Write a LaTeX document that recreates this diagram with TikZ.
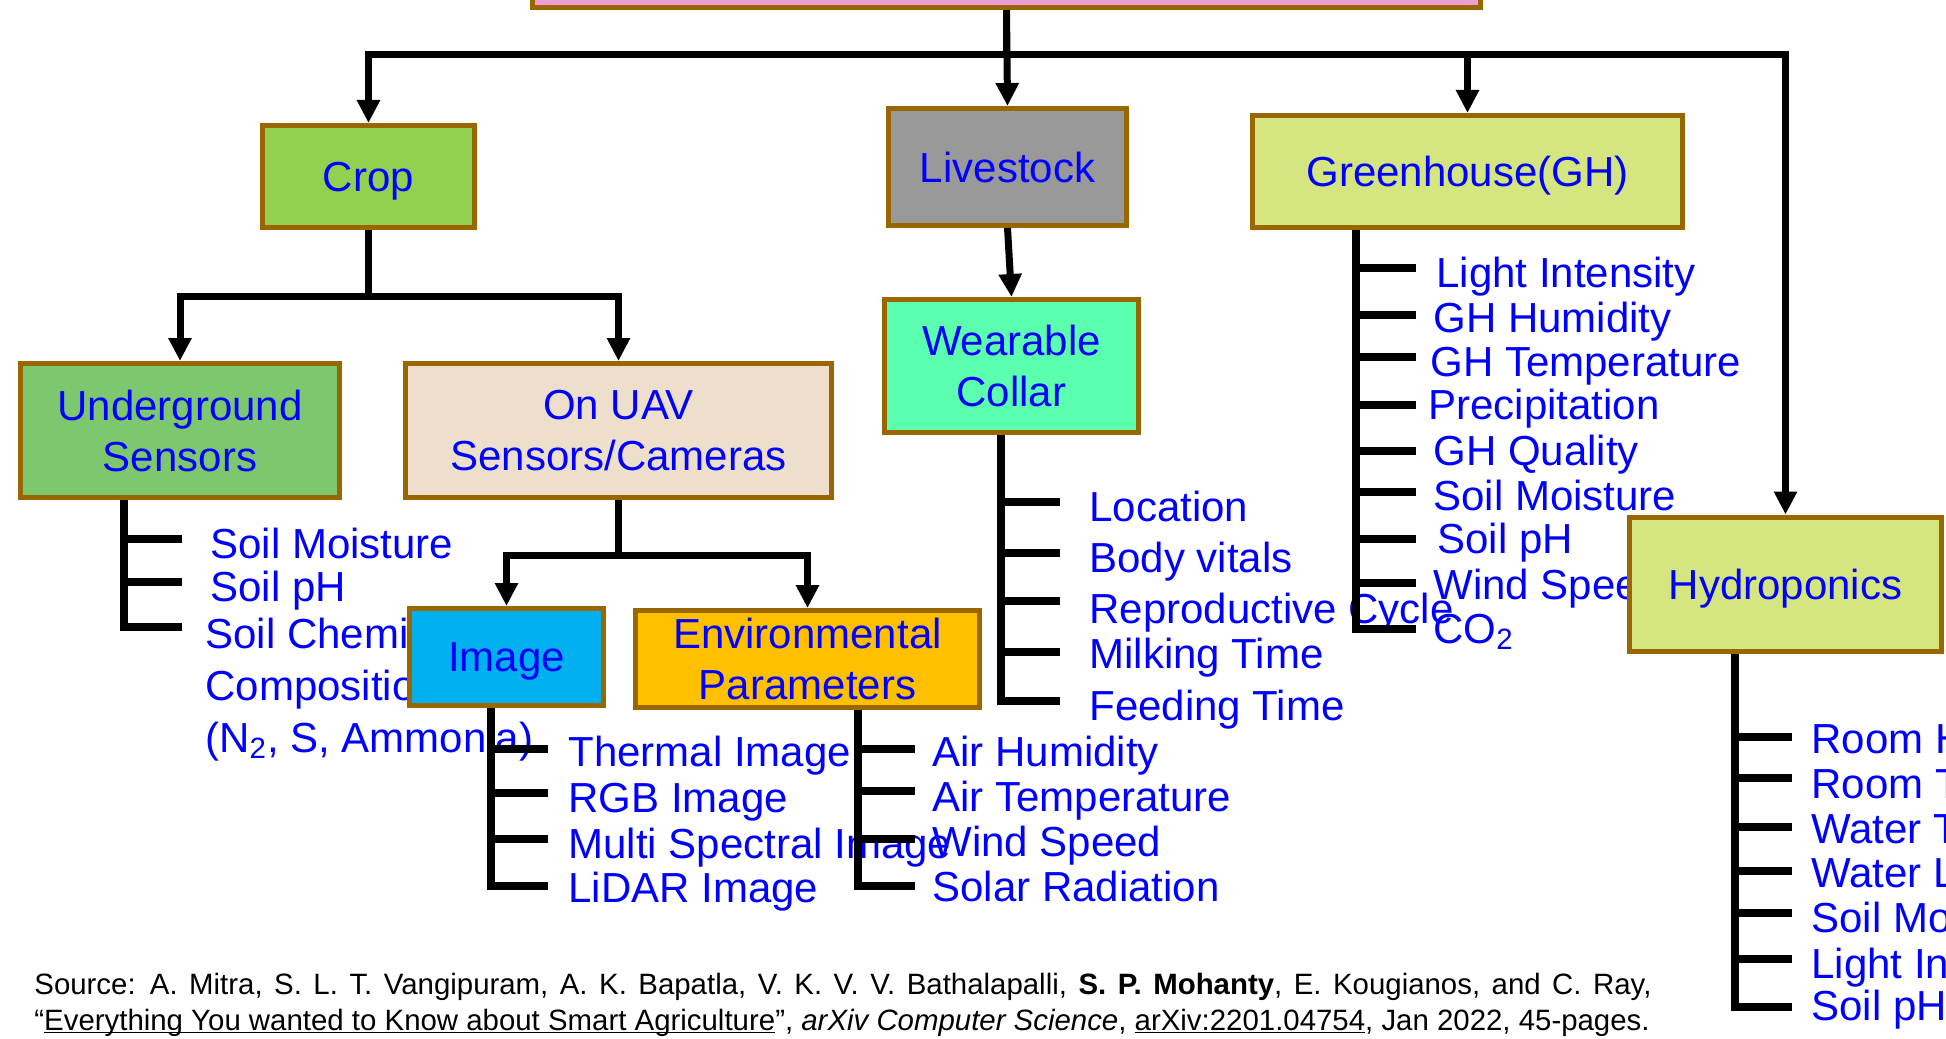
\documentclass[tikz,border=0pt]{standalone}
\usepackage{fontspec}
\setmainfont{Liberation Sans}
\usetikzlibrary{arrows.meta}
\definecolor{txtblue}{RGB}{0,0,255}
\definecolor{brd}{RGB}{153,102,0}
\definecolor{cpink}{RGB}{238,158,214}
\definecolor{ccrop}{RGB}{146,208,80}
\definecolor{cgray}{RGB}{153,153,153}
\definecolor{cgh}{RGB}{213,229,127}
\definecolor{cwear}{RGB}{92,255,173}
\definecolor{cunder}{RGB}{125,200,110}
\definecolor{cuav}{RGB}{237,223,203}
\definecolor{cimg}{RGB}{0,176,240}
\definecolor{cenv}{RGB}{255,192,0}
\begin{document}
\begin{tikzpicture}[x=0.5pt,y=-0.5pt,
  box/.style={draw=brd, line width=2.5pt, text=txtblue, font=\fontsize{21}{25.5}\selectfont, align=center, inner sep=0pt},
  single/.style={text depth=0pt},
  conn/.style={line width=3.5pt, line join=miter},
  arr/.style={conn, -{Triangle[length=11.5pt,width=11pt]}},
  tree/.style={line width=3.75pt, line join=miter},
  leaf/.style={text=txtblue, font=\fontsize{21}{25.5}\selectfont, anchor=base west, inner sep=0pt},
  srctext/.style={anchor=base west, inner sep=0pt, font=\fontsize{14.7}{18}\selectfont}]
\useasboundingbox (0,0) rectangle (1946,1038);
\clip (0,0) rectangle (1946,1038);

% ---------- leaf texts (under boxes) ----------
\node[leaf] (u1) at (210,558) {Soil Moisture};
\node[leaf] (u2) at (210,601) {Soil pH};
\node[leaf] (u3) at (205,648) {Soil Chemical};
\node[leaf] (u4) at (205,700) {Composition};
\node[leaf] (u5) at (205,752) {(N\textsubscript{2}, S, Ammonia)};

\node[leaf] (i1) at (568,766) {Thermal Image};
\node[leaf] (i2) at (568,812) {RGB Image};
\node[leaf] (i3) at (568,858) {Multi Spectral Image};
\node[leaf] (i4) at (568,902) {LiDAR Image};

\node[leaf] (e1) at (932,766) {Air Humidity};
\node[leaf] (e2) at (932,811) {Air Temperature};
\node[leaf] (e3) at (932,856) {Wind Speed};
\node[leaf] (e4) at (932,901) {Solar Radiation};

\node[leaf] (w1) at (1089,521) {Location};
\node[leaf] (w2) at (1089,572) {Body vitals};
\node[leaf] (w3) at (1089,623) {Reproductive Cycle};
\node[leaf] (w4) at (1089,668) {Milking Time};
\node[leaf] (w5) at (1089,720) {Feeding Time};

\node[leaf] (g1) at (1436,287) {Light Intensity};
\node[leaf] (g2) at (1433,332) {GH Humidity};
\node[leaf] (g3) at (1430,376) {GH Temperature};
\node[leaf] (g4) at (1428,419) {Precipitation};
\node[leaf] (g5) at (1433,465) {GH Quality};
\node[leaf] (g6) at (1433,510) {Soil Moisture};
\node[leaf] (g7) at (1437,553) {Soil pH};
\node[leaf] (g8) at (1433,599) {Wind Speed};
\node[leaf] (g9) at (1433,643) {CO\textsubscript{2}};

\node[leaf] (h1) at (1811,753) {Room Humidity};
\node[leaf] (h2) at (1811,798) {Room Temperature};
\node[leaf] (h3) at (1811,843) {Water Temperature};
\node[leaf] (h4) at (1811,887) {Water Level};
\node[leaf] (h5) at (1811,932) {Soil Moisture};
\node[leaf] (h6) at (1811,978) {Light Intensity};
\node[leaf] (h7) at (1811,1020) {Soil pH};

% ---------- boxes ----------
\node[box, fill=cpink, minimum width=474pt, minimum height=32.5pt] (top) at (1006.5,-25) {};
\node[box, single, fill=ccrop, minimum width=106pt, minimum height=51pt] (crop) at (368.5,176.5) {Crop};
\node[box, single, fill=cgray, minimum width=119pt, minimum height=58.5pt] (live) at (1007.5,167) {Livestock};
\node[box, single, fill=cgh, minimum width=215pt, minimum height=56pt] (gh) at (1467.5,171.5) {Greenhouse(GH)};
\node[box, single, fill=cgh, minimum width=156pt, minimum height=67pt] (hydro) at (1785.5,584) {Hydroponics};
\node[box, fill=cwear, minimum width=127pt, minimum height=66.5pt] (wear) at (1011.5,366) {Wearable\\Collar};
\node[box, fill=cunder, minimum width=159.5pt, minimum height=67pt] (under) at (180,430.5) {Underground\\Sensors};
\node[box, fill=cuav, minimum width=213pt, minimum height=67pt] (uav) at (618.5,430.5) {On UAV\\Sensors/Cameras};
\node[box, single, fill=cimg, minimum width=97pt, minimum height=48.5pt] (image) at (506.5,657) {Image};
\node[box, fill=cenv, minimum width=172pt, minimum height=48.5pt] (env) at (807.5,659) {Environmental\\Parameters};

% ---------- connectors ----------
\draw[arr] (top.south) -- (live.north);
\draw[arr] (top.south) -- ++(0,44.5) -| (crop.north);
\draw[arr] (top.south) -- ++(0,44.5) -| (gh.north);
\draw[arr] (top.south) -- ++(0,44.5) -| (hydro.north);
\draw[arr] (live.south) -- (wear.north);
\draw[arr] (crop.south) -- ++(0,66) -| (under.north);
\draw[arr] (crop.south) -- ++(0,66) -| (uav.north);
\draw[arr] (uav.south) -- ++(0,55) -| (image.north);
\draw[arr] (uav.south) -- ++(0,55) -| (env.north);

% ---------- leaf brackets ----------
\coordinate (ux) at (124,0);
\draw[tree] (under.south -| ux) -- (124,627) -- (182,627);
\foreach \yy in {539,582} \draw[tree] (124,\yy) -- (182,\yy);

\coordinate (ix) at (491,0);
\draw[tree] (image.south -| ix) -- (491,886) -- (548,886);
\foreach \yy in {749,793,839} \draw[tree] (491,\yy) -- (548,\yy);

\coordinate (ex) at (858,0);
\draw[tree] (env.south -| ex) -- (858,886) -- (915,886);
\foreach \yy in {749,791,839} \draw[tree] (858,\yy) -- (915,\yy);

\coordinate (wx) at (1001,0);
\draw[tree] (wear.south -| wx) -- (1001,701) -- (1060,701);
\foreach \yy in {502,553,601,652} \draw[tree] (1001,\yy) -- (1060,\yy);

\coordinate (gx) at (1356,0);
\draw[tree] (gh.south -| gx) -- (1356,629) -- (1416,629);
\foreach \yy in {268,315,357,405,451,492,539,583} \draw[tree] (1356,\yy) -- (1416,\yy);

\coordinate (hx) at (1735,0);
\draw[tree] (hydro.south -| hx) -- (1735,1007) -- (1792,1007);
\foreach \yy in {737,778,827,871,913,959} \draw[tree] (1735,\yy) -- (1792,\yy);

% ---------- source ----------
\node[srctext] (src1) at (34,994)
 {\spaceskip=5.75pt plus 1pt Source: A. Mitra, S. L. T. Vangipuram, A. K. Bapatla, V. K. V. V. Bathalapalli, \textbf{S. P. Mohanty}, E. Kougianos, and C. Ray,};
\node[srctext] (src2) at (34,1030)
 {“\underbar{Everything You wanted to Know about Smart Agriculture}”, \textit{arXiv Computer Science}, \underbar{arXiv:2201.04754}, Jan 2022, 45-pages.};
\end{tikzpicture}
\end{document}
